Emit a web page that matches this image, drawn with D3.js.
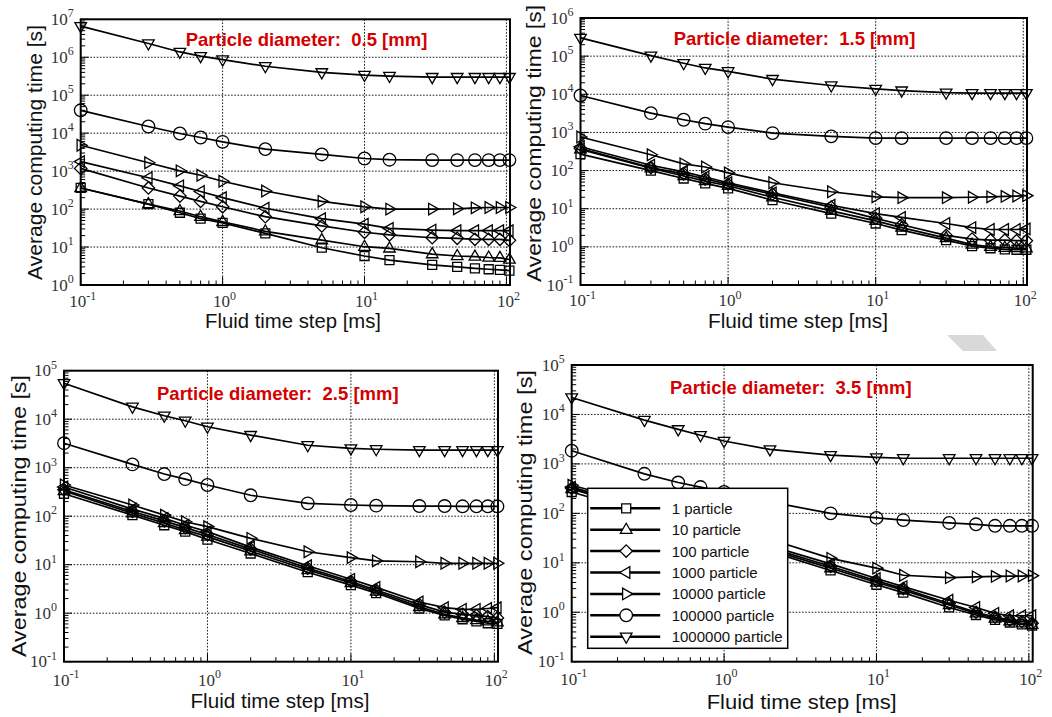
<!DOCTYPE html>
<html>
<head>
<meta charset="utf-8">
<script src="https://cdn.jsdelivr.net/npm/d3@7"></script>
<style>
  body { margin: 0; background: #fff; }
  svg { display: block; }
  text { white-space: pre; }
</style>
</head>
<body>
<svg id="chart" width="1052" height="717"></svg>
<script>
// Fluid time step [ms] used in every run
const timeStep = [0.1, 0.3, 0.5, 0.7, 1, 2, 5, 10, 15, 30, 45, 60, 75, 90, 105];

const particleLabels = ["1 particle", "10 particle", "100 particle", "1000 particle",
                        "10000 particle", "100000 particle", "1000000 particle"];
const markerShapes = ["square", "triangleUp", "diamond", "triangleLeft",
                      "triangleRight", "circle", "triangleDown"];
const diameterTitles = ["Particle diameter:  0.5 [mm]", "Particle diameter:  1.5 [mm]",
                        "Particle diameter:  2.5 [mm]", "Particle diameter:  3.5 [mm]"];

// Average computing time [s]; rows follow particleLabels, columns follow timeStep
const time_d05 = [
  [360, 135, 80, 56, 43.5, 23, 9.6, 5.8, 4.5, 3.4, 3.0, 2.75, 2.6, 2.5, 2.4],
  [360, 135, 89, 63, 46, 26, 15.2, 10.2, 9.2, 6.5, 5.8, 5.6, 5.3, 5.2, 4.7],
  [1180, 360, 220, 160, 115, 63, 36, 24.5, 21, 17.6, 17, 16, 16, 16, 15],
  [1780, 670, 410, 290, 200, 105, 56, 40, 31, 28, 27, 27, 27, 27, 27],
  [4800, 1660, 1020, 780, 540, 300, 160, 115, 100, 100, 102, 108, 110, 110, 110],
  [40000, 15000, 9800, 7700, 5900, 3800, 2750, 2150, 2000, 1950, 1950, 1950, 1950, 1950, 1950],
  [6.6e6, 2.3e6, 1.38e6, 1.07e6, 8.7e5, 5.8e5, 4.0e5, 3.4e5, 3.2e5, 3.0e5, 3.0e5, 3.0e5, 3.0e5, 3.0e5, 3.0e5]
];
const time_d15 = [
  [270, 100, 62, 46, 34, 16.7, 7.4, 4.1, 2.75, 1.5, 1.05, 0.92, 0.86, 0.84, 0.84],
  [360, 115, 72, 53, 40, 20, 8.8, 4.8, 3.2, 1.7, 1.15, 1.0, 0.95, 0.93, 0.92],
  [380, 120, 82, 60, 44, 24, 11, 5.6, 3.8, 2.0, 1.6, 1.5, 1.5, 1.45, 1.45],
  [420, 138, 92, 68, 48, 26, 12.3, 7.4, 5.9, 4.1, 3.2, 2.85, 2.85, 2.85, 2.95],
  [760, 260, 150, 124, 87, 48, 27.8, 20.5, 19.5, 19.5, 20, 20.5, 21, 21.5, 22],
  [9300, 3200, 2150, 1700, 1380, 960, 790, 710, 710, 710, 710, 710, 710, 710, 710],
  [3.0e5, 1.03e5, 6.5e4, 4.9e4, 4.0e4, 2.5e4, 1.7e4, 1.38e4, 1.25e4, 1.1e4, 1.07e4, 1.07e4, 1.07e4, 1.07e4, 1.07e4]
];
const time_d25 = [
  [290, 105, 65, 48, 33, 17, 7.0, 3.8, 2.6, 1.25, 0.9, 0.75, 0.68, 0.62, 0.6],
  [330, 115, 72, 52, 38, 19, 7.8, 4.2, 2.8, 1.35, 0.95, 0.8, 0.72, 0.68, 0.65],
  [350, 125, 80, 58, 42, 21, 8.5, 4.5, 3.0, 1.5, 1.05, 0.95, 0.9, 0.85, 0.8],
  [400, 140, 90, 65, 48, 23, 9.5, 5.0, 3.4, 1.7, 1.3, 1.2, 1.2, 1.25, 1.3],
  [440, 170, 105, 77, 61, 35, 18.5, 14, 12, 11.5, 10.7, 10.7, 10.7, 10.7, 10.7],
  [3200, 1170, 740, 580, 440, 270, 184, 170, 165, 162, 162, 160, 160, 160, 160],
  [5.5e4, 1.8e4, 1.18e4, 9300, 7000, 4700, 2900, 2500, 2400, 2300, 2300, 2300, 2300, 2300, 2300]
];
const time_d35 = [
  [270, 100, 63, 46, 34, 17, 7.0, 3.6, 2.5, 1.25, 0.88, 0.7, 0.62, 0.57, 0.54],
  [310, 112, 70, 51, 38, 18.5, 7.8, 4.0, 2.8, 1.4, 0.95, 0.75, 0.66, 0.6, 0.56],
  [320, 120, 75, 55, 41, 20, 8.5, 4.3, 3.0, 1.5, 1.0, 0.8, 0.7, 0.65, 0.6],
  [340, 130, 82, 60, 45, 22, 9.5, 4.8, 3.3, 1.75, 1.25, 0.95, 0.85, 0.85, 0.85],
  [370, 150, 95, 70, 52, 30, 12.3, 7.8, 5.6, 5.0, 5.2, 5.3, 5.4, 5.4, 5.5],
  [1850, 630, 420, 340, 270, 170, 100, 81, 73, 64, 60, 56, 56, 56, 56],
  [2.2e4, 7700, 5000, 3800, 2900, 1960, 1500, 1350, 1300, 1300, 1300, 1300, 1300, 1300, 1300]
];

// Axis decades
const xDecades = [-1, 0, 1, 2];
const yDecades_d05 = [0, 1, 2, 3, 4, 5, 6, 7];
const yDecades_d15 = [-1, 0, 1, 2, 3, 4, 5, 6];
const yDecades_d25 = [-1, 0, 1, 2, 3, 4, 5];
const yDecades_d35 = [-1, 0, 1, 2, 3, 4, 5];

const xLabel = "Fluid time step [ms]";
const yLabel = "Average computing time [s]";

// Panel layout: plot frame, title and axis-title placement
const panels = [
  { data: time_d05, title: diameterTitles[0], yDec: yDecades_d05,
    frame: { l: 80.7, t: 19.3, r: 510, b: 285 }, titleAt: [185.7, 45.5],
    yTitle: { x: 42, y: 152.5, len: 255 }, xTitle: { x: 293, y: 328, len: 176 }, xTickDy: 22 },
  { data: time_d15, title: diameterTitles[1], yDec: yDecades_d15,
    frame: { l: 580.5, t: 18, r: 1027, b: 285 }, titleAt: [673.7, 44.5],
    yTitle: { x: 541, y: 143.5, len: 277 }, xTitle: { x: 798, y: 328.3, len: 180 }, xTickDy: 21 },
  { data: time_d25, title: diameterTitles[2], yDec: yDecades_d25,
    frame: { l: 64, t: 370.7, r: 498, b: 661.7 }, titleAt: [157, 399.7],
    yTitle: { x: 26, y: 516, len: 282 }, xTitle: { x: 280, y: 708.3, len: 179 }, xTickDy: 24 },
  { data: time_d35, title: diameterTitles[3], yDec: yDecades_d35,
    frame: { l: 571.7, t: 365, r: 1032.7, b: 661.7 }, titleAt: [670, 393.7],
    yTitle: { x: 532, y: 512.5, len: 285 }, xTitle: { x: 801.7, y: 709.3, len: 190 }, xTickDy: 23,
    legend: { l: 587.7, t: 488.3, r: 787.7, b: 648.3 } }
];

const svg = d3.select("#chart");

// Faint grey mark in the page margin
svg.append("polygon")
  .attr("points", "947,335 983,335 997,351 963,351")
  .attr("fill", "#d9d9d9");

function markerPath(shape) {
  switch (shape) {
    case "square": return "M-4.5,-4.5H4.5V4.5H-4.5Z";
    case "diamond": return "M0,-6.2L6.2,0L0,6.2L-6.2,0Z";
    case "triangleUp": return "M0,-6.5L5.8,3.6L-5.8,3.6Z";
    case "triangleDown": return "M0,6.5L5.8,-3.6L-5.8,-3.6Z";
    case "triangleLeft": return "M-6.5,0L3.6,-5.8L3.6,5.8Z";
    case "triangleRight": return "M6.5,0L-3.6,-5.8L-3.6,5.8Z";
    case "circle": return d3.arc()({ innerRadius: 0, outerRadius: 6.3, startAngle: 0, endAngle: 2 * Math.PI });
  }
}

function powerLabel(sel, exp) {
  sel.append("tspan").text("10");
  sel.append("tspan").attr("dy", -7.5).attr("font-size", 12).text(String(exp));
}

panels.forEach(p => {
  const f = p.frame;
  const g = svg.append("g");
  const x = d3.scaleLog().domain([0.1, 106]).range([f.l, f.r]);
  const y = d3.scaleLog()
    .domain([Math.pow(10, p.yDec[0]), Math.pow(10, p.yDec[p.yDec.length - 1])])
    .range([f.b, f.t]);

  // dotted grid at each decade
  const grid = g.append("g").attr("stroke", "#000").attr("stroke-width", 0.9)
    .attr("stroke-dasharray", "1.6,1.6");
  xDecades.slice(1).forEach(e => {
    const px = x(Math.pow(10, e));
    grid.append("line").attr("x1", px).attr("x2", px).attr("y1", f.t).attr("y2", f.b);
  });
  p.yDec.slice(1, -1).forEach(e => {
    const py = y(Math.pow(10, e));
    grid.append("line").attr("x1", f.l).attr("x2", f.r).attr("y1", py).attr("y2", py);
  });

  // inward ticks on the left and bottom axes
  const ticks = g.append("g").attr("stroke", "#000").attr("stroke-width", 1);
  const xMinor = [];
  for (let e = -1; e < 2; e++) for (let k = 2; k <= 9; k++) xMinor.push(k * Math.pow(10, e));
  xMinor.forEach(v => ticks.append("line")
    .attr("x1", x(v)).attr("x2", x(v)).attr("y1", f.b).attr("y2", f.b - 4.5));
  xDecades.forEach(e => ticks.append("line")
    .attr("x1", x(Math.pow(10, e))).attr("x2", x(Math.pow(10, e))).attr("y1", f.b).attr("y2", f.b - 8));
  for (let i = 0; i < p.yDec.length - 1; i++) {
    for (let k = 2; k <= 9; k++) {
      const py = y(k * Math.pow(10, p.yDec[i]));
      ticks.append("line").attr("x1", f.l).attr("x2", f.l + 4.5).attr("y1", py).attr("y2", py);
    }
  }
  p.yDec.forEach(e => {
    const py = y(Math.pow(10, e));
    ticks.append("line").attr("x1", f.l).attr("x2", f.l + 8).attr("y1", py).attr("y2", py);
  });

  // series lines and open markers
  const line = d3.line().x((d, i) => x(timeStep[i])).y(d => y(d));
  p.data.forEach((series, si) => {
    g.append("path").attr("d", line(series))
      .attr("fill", "none").attr("stroke", "#000").attr("stroke-width", 1.7);
    g.append("g").selectAll("path").data(series).join("path")
      .attr("d", markerPath(markerShapes[si]))
      .attr("transform", (d, i) => `translate(${x(timeStep[i])},${y(d)})`)
      .attr("fill", "none").attr("stroke", "#000").attr("stroke-width", 1.3);
  });

  // frame
  g.append("rect").attr("x", f.l).attr("y", f.t)
    .attr("width", f.r - f.l).attr("height", f.b - f.t)
    .attr("fill", "none").attr("stroke", "#000").attr("stroke-width", 2);

  // tick labels
  xDecades.forEach(e => {
    g.append("text").attr("x", x(Math.pow(10, e)) + 2).attr("y", f.b + p.xTickDy)
      .attr("text-anchor", "middle").attr("font-family", "'Liberation Serif', 'Times New Roman', serif")
      .attr("font-size", 17).attr("fill", "#333")
      .call(powerLabel, e);
  });
  p.yDec.forEach(e => {
    g.append("text").attr("x", f.l - 7).attr("y", y(Math.pow(10, e)) + 5.5)
      .attr("text-anchor", "end").attr("font-family", "'Liberation Serif', 'Times New Roman', serif")
      .attr("font-size", 17).attr("fill", "#333")
      .call(powerLabel, e);
  });

  // axis titles
  g.append("text").attr("x", p.xTitle.x).attr("y", p.xTitle.y)
    .attr("text-anchor", "middle").attr("font-family", "'Liberation Sans', Arial, sans-serif")
    .attr("font-size", 19.5).attr("fill", "#111")
    .attr("textLength", p.xTitle.len).attr("lengthAdjust", "spacingAndGlyphs")
    .text(xLabel);
  g.append("text")
    .attr("transform", `translate(${p.yTitle.x},${p.yTitle.y}) rotate(-90)`)
    .attr("text-anchor", "middle").attr("font-family", "'Liberation Sans', Arial, sans-serif")
    .attr("font-size", 20).attr("fill", "#111")
    .attr("textLength", p.yTitle.len).attr("lengthAdjust", "spacingAndGlyphs")
    .text(yLabel);

  // panel title
  g.append("text").attr("x", p.titleAt[0]).attr("y", p.titleAt[1])
    .attr("font-family", "'Liberation Sans', Arial, sans-serif").attr("font-weight", "bold")
    .attr("font-size", 18.5).attr("fill", "#d40000")
    .text(p.title);

  // legend
  if (p.legend) {
    const L = p.legend;
    const lg = g.append("g");
    lg.append("rect").attr("x", L.l).attr("y", L.t)
      .attr("width", L.r - L.l).attr("height", L.b - L.t)
      .attr("fill", "#fff").attr("stroke", "#000").attr("stroke-width", 1.5);
    particleLabels.forEach((lab, i) => {
      const ry = L.t + 20 + i * 21.4;
      lg.append("line").attr("x1", L.l + 2.5).attr("x2", L.l + 72.5)
        .attr("y1", ry).attr("y2", ry).attr("stroke", "#000").attr("stroke-width", 2.5);
      lg.append("path").attr("d", markerPath(markerShapes[i]))
        .attr("transform", `translate(${L.l + 38.5},${ry})`)
        .attr("fill", "#fff").attr("stroke", "#000").attr("stroke-width", 1.3);
      lg.append("text").attr("x", L.l + 84).attr("y", ry + 5.5)
        .attr("font-family", "'Liberation Sans', Arial, sans-serif").attr("font-size", 15)
        .attr("fill", "#111").text(lab);
    });
  }
});
</script>
</body>
</html>
